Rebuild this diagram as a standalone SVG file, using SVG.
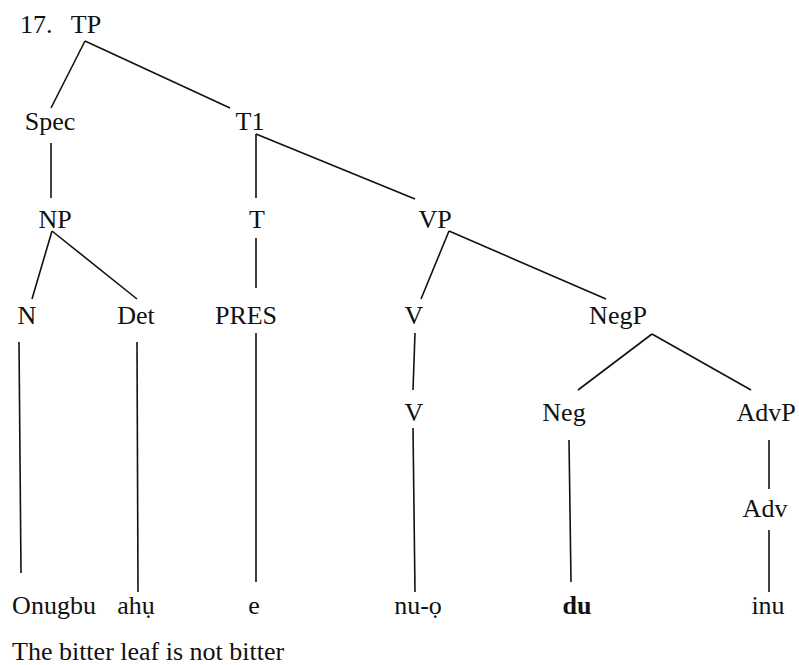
<svg xmlns="http://www.w3.org/2000/svg" width="799" height="665" viewBox="0 0 799 665">
<style>
text{font-family:'Liberation Serif','Times New Roman',Times,'DejaVu Serif',serif;font-size:26px;fill:#111;text-anchor:middle}
.l{text-anchor:start}
.b{font-weight:bold}
#edges line{stroke:#111;stroke-width:1.6;stroke-linecap:butt}
</style>
<rect width="799" height="665" fill="#fff"/>
<g id="edges">
<line x1="85" y1="41" x2="51" y2="108"/>
<line x1="85" y1="41" x2="230" y2="108"/>
<line x1="51" y1="143" x2="51" y2="198"/>
<line x1="256" y1="134" x2="256" y2="198"/>
<line x1="256" y1="134" x2="415" y2="199"/>
<line x1="52" y1="231" x2="32" y2="299"/>
<line x1="52" y1="231" x2="137" y2="299"/>
<line x1="256" y1="238" x2="256" y2="288"/>
<line x1="449" y1="231" x2="421" y2="299"/>
<line x1="449" y1="231" x2="606" y2="299"/>
<line x1="19" y1="342" x2="21" y2="573"/>
<line x1="137" y1="342" x2="138" y2="592"/>
<line x1="256" y1="333" x2="256" y2="582"/>
<line x1="415" y1="333" x2="413" y2="390"/>
<line x1="652" y1="334" x2="578" y2="390"/>
<line x1="652" y1="334" x2="751" y2="390"/>
<line x1="413" y1="428" x2="415" y2="592"/>
<line x1="569" y1="440" x2="571" y2="582"/>
<line x1="769" y1="440" x2="769" y2="489"/>
<line x1="769" y1="530" x2="769" y2="592"/>
</g>
<g id="label17"><text class="l" x="20" y="33">17.</text></g>
<g id="TP"><text x="86" y="33">TP</text></g>
<g id="Spec"><text x="50" y="130">Spec</text></g>
<g id="T1"><text x="250" y="130">T1</text></g>
<g id="NP"><text x="55" y="228">NP</text></g>
<g id="T"><text x="257" y="228">T</text></g>
<g id="VP"><text x="435" y="228">VP</text></g>
<g id="N"><text x="27" y="324">N</text></g>
<g id="Det"><text x="136" y="324">Det</text></g>
<g id="PRES"><text x="246" y="324">PRES</text></g>
<g id="V1"><text x="414" y="324">V</text></g>
<g id="NegP"><text x="618" y="324">NegP</text></g>
<g id="V2"><text x="414" y="421">V</text></g>
<g id="Neg"><text x="564" y="421">Neg</text></g>
<g id="AdvP"><text x="766" y="421">AdvP</text></g>
<g id="Adv"><text x="765" y="517">Adv</text></g>
<g id="w-Onugbu"><text x="54" y="614">Onugbu</text></g>
<g id="w-ahu"><text x="136" y="614">ahụ</text></g>
<g id="w-e"><text x="254" y="614">e</text></g>
<g id="w-nuo"><text x="418" y="614">nu-ọ</text></g>
<g id="w-du"><text class="b" x="577" y="614">du</text></g>
<g id="w-inu"><text x="768" y="614">inu</text></g>
<g id="gloss"><text class="l" x="12" y="660">The bitter leaf is not bitter</text></g>
</svg>
